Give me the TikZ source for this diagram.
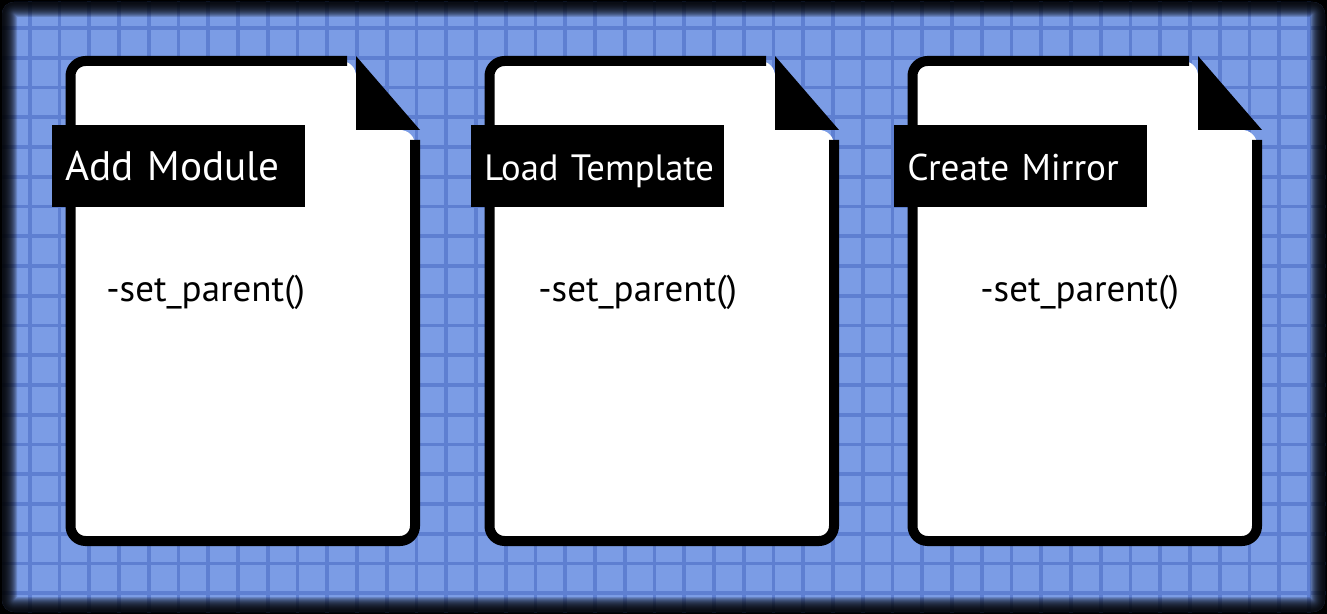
\documentclass[tikz,border=0pt]{standalone}
\usepackage{fontspec}
\setmainfont{PT Sans}
\definecolor{bgblue}{RGB}{123,156,229}
\definecolor{gridblue}{RGB}{94,127,209}
\tikzset{
  gridline/.style={gridblue, line width=1.9pt},
  docline/.style={black, line width=5pt, rounded corners=7.5pt},
  tabbox/.style={fill=black, text=white, anchor=north west, inner xsep=6.5pt, inner ysep=0pt,
    text width=113.5pt, align=left, text height=27.5pt, text depth=13.5pt},
  calltext/.style={anchor=west, inner sep=0pt, font=\fontsize{18.5}{22}\selectfont}
}
\begin{document}
\begin{tikzpicture}[x=0.5pt, y=-0.5pt]
    \useasboundingbox (0,0) rectangle (1327,614);
    \fill[black] (0,0) rectangle (1327,614);

    % Background with grid and dark rim
    \begin{scope}
        \clip[rounded corners=6pt] (2,2) rectangle (1325,612);
        \fill[bgblue] (0,0) rectangle (1327,614);
        \foreach \i in {1,...,44} \draw[gridline] (\i*29.75,0) -- (\i*29.75,614);
        \foreach \j in {0,...,19} \draw[gridline] (0,28+\j*29.75) -- (1327,28+\j*29.75);
        \foreach \w in {2,...,15}
            \draw[black, opacity=0.15, line width=\w pt, rounded corners=6pt] (2,2) rectangle (1325,612);
    \end{scope}

    % Documents
    \foreach \xs/\name/\title/\fs/\tx in {65/add/Add Module/20.6/41, 484/load/Load Template/18.3/54, 907/mirror/Create Mirror/18.6/73} {
        \begin{scope}[shift={(\xs,0)}]
            \fill[white, rounded corners=7.5pt] (5.5,61) -- (291,61) -- (291,130) -- (350,130) -- (350,541) -- (5.5,541) -- cycle;
            \draw[docline] (282,61) -- (5.5,61) -- (5.5,541) -- (350,541) -- (350,140);
            \fill[black] (291,56) -- (291,130) -- (355,130) -- cycle;
            \node[tabbox, font=\fontsize{\fs}{\fs}\selectfont] (\name-tab) at (-13,125) {\mbox{\title}};
            \node[calltext] (\name-text) at (\tx,292) {-set\_parent()};
        \end{scope}
    }
\end{tikzpicture}
\end{document}
